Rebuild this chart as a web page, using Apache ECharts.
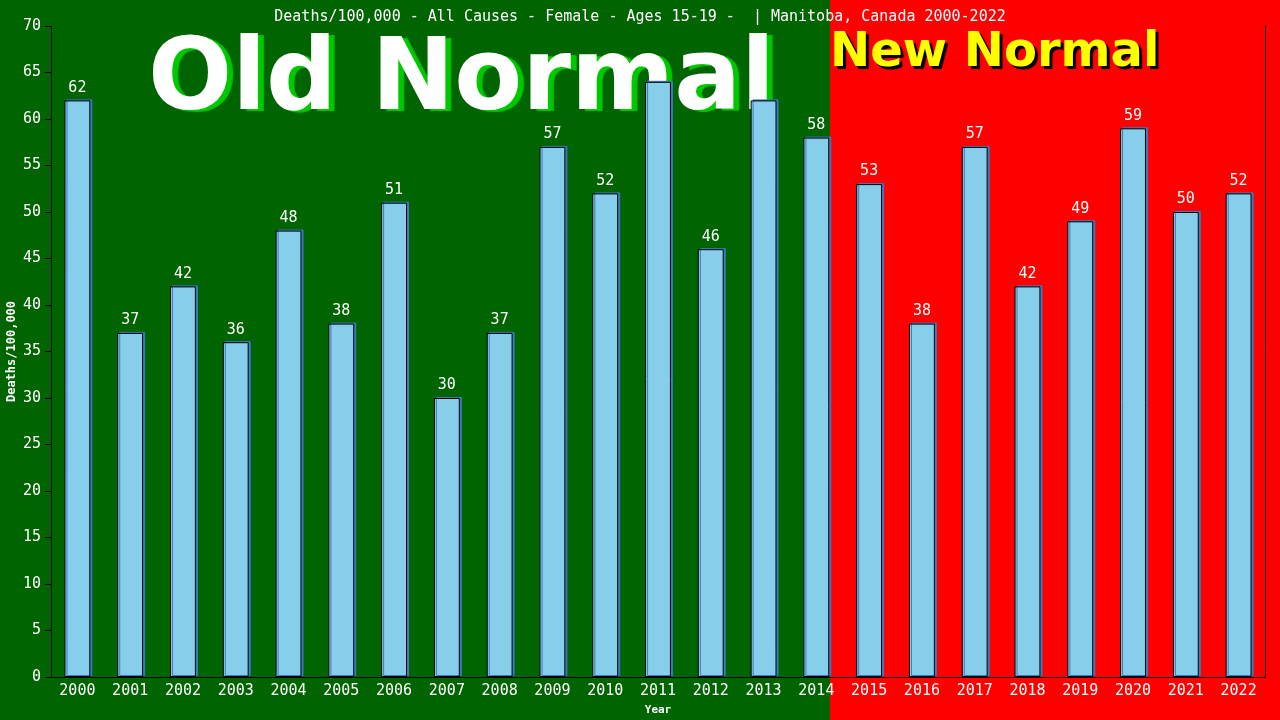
<!DOCTYPE html>
<html><head><meta charset="utf-8">
<script src="https://cdn.jsdelivr.net/npm/echarts@6/dist/echarts.min.js"></script>
<style>html,body{margin:0;padding:0;background:#006400}#c{width:1280px;height:720px}</style>
</head><body><div id="c"></div>
<script>
const categories = ['2000','2001','2002','2003','2004','2005','2006','2007','2008','2009','2010','2011','2012','2013','2014','2015','2016','2017','2018','2019','2020','2021','2022'];
const deathRates = [62,37,42,36,48,38,51,30,37,57,52,64,46,62,58,53,38,57,42,49,59,50,52];
const titleText = 'Deaths/100,000 - All Causes - Female - Ages 15-19 -  | Manitoba, Canada 2000-2022';
const mono = 'DejaVu Sans Mono';
const chart = echarts.init(document.getElementById('c'));
chart.setOption({
  animation: false,
  backgroundColor: '#006400',
  title: { text: titleText, left: 'center', top: 5, textStyle: { color: '#fff', fontFamily: mono, fontSize: 15, fontWeight: 'normal' } },
  grid: { left: 51, right: 15, top: 26, bottom: 43, containLabel: false, outerBoundsMode: 'none' },
  graphic: [
    { type: 'rect', z: -10, shape: { x: 830, y: 0, width: 450, height: 720 }, style: { fill: '#ff0000' } },
    { type: 'text', z: 5, left: 148, top: 34, style: { text: 'Old Normal', fill: '#ffffff', font: 'bold 99px "DejaVu Sans"', textShadowColor: '#00c800', textShadowOffsetX: 6, textShadowOffsetY: 2, textShadowBlur: 1 } },
    { type: 'text', z: 5, left: 830, top: 30, style: { text: 'New Normal', fill: '#ffff00', font: 'bold 48px "DejaVu Sans"', textShadowColor: '#000000', textShadowOffsetX: 3, textShadowOffsetY: 3, textShadowBlur: 1 } }
  ],
  xAxis: {
    type: 'category', data: categories,
    name: 'Year', nameLocation: 'middle', nameGap: 28, nameMoveOverlap: false,
    nameTextStyle: { color: '#fff', fontFamily: mono, fontSize: 11, fontWeight: 'bold' },
    axisLine: { lineStyle: { color: '#000', width: 1 } },
    axisTick: { show: false },
    axisLabel: { color: '#fff', fontFamily: mono, fontSize: 15, margin: 7 }
  },
  yAxis: [{
    type: 'value', min: 0, max: 70, interval: 5,
    name: 'Deaths/100,000', nameLocation: 'middle', nameGap: 33, nameRotate: 90, nameMoveOverlap: false,
    nameTextStyle: { color: '#fff', fontFamily: mono, fontSize: 12, fontWeight: 'bold' },
    axisLine: { show: true, lineStyle: { color: '#000', width: 1 } },
    axisTick: { show: true, length: 6, lineStyle: { color: '#000' } },
    splitLine: { show: false },
    axisLabel: { color: '#fff', fontFamily: mono, fontSize: 15, margin: 10 }
  }, {
    type: 'value', min: 0, max: 70, interval: 5, position: 'right',
    axisLine: { show: true, lineStyle: { color: '#000', width: 1 } },
    axisTick: { show: false }, axisLabel: { show: false }, splitLine: { show: false }
  }],
  series: [{
    type: 'bar', data: deathRates, barWidth: '49%', z: 1,
    itemStyle: { color: 'rgba(0,0,0,0)' },
    label: { show: true, position: 'top', distance: 5, color: '#fff', fontFamily: mono, fontSize: 15 },
    silent: true
  }, {
    type: 'bar', data: deathRates, barWidth: '49%', barGap: '-100%', z: 10,
    itemStyle: { color: '#87CEEB', borderColor: '#000', borderWidth: 1, shadowColor: '#3b7bc4', shadowOffsetX: 2, shadowOffsetY: -1, shadowBlur: 0 },
    label: { show: false }
  }]
});
</script></body></html>
